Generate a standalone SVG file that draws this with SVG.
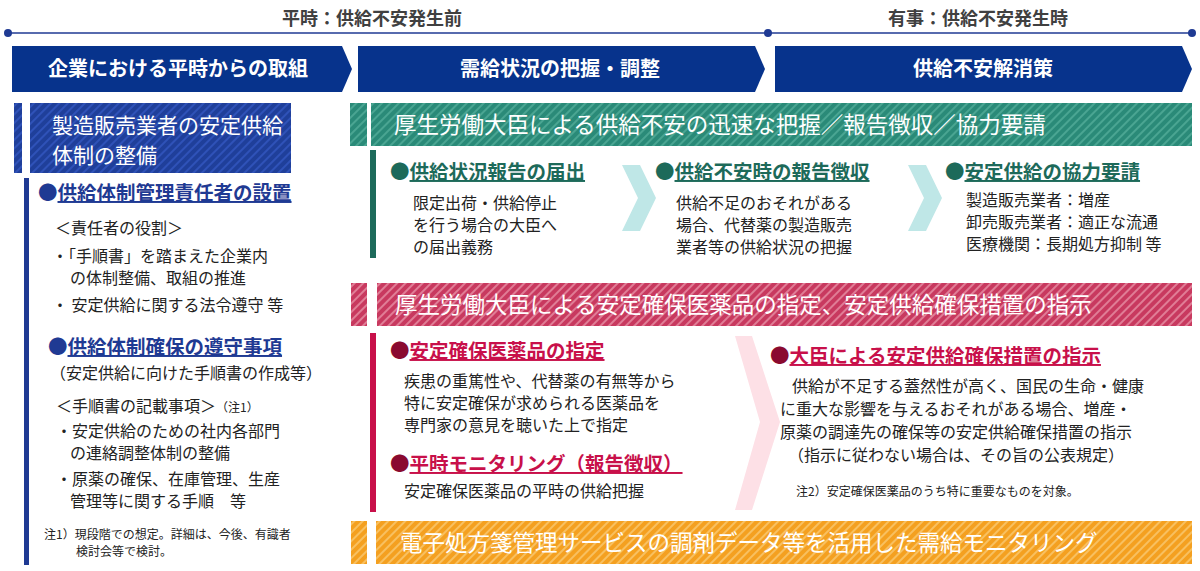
<svg xmlns="http://www.w3.org/2000/svg" width="1200" height="571" viewBox="0 0 1200 571">
<style>
text{font-family:"Noto Sans CJK JP","Noto Sans",sans-serif;}
.hd{fill:#fff;font-size:20px;font-weight:bold;text-anchor:middle}
.tl{fill:#404040;font-size:18px;font-weight:bold;text-anchor:middle}
.b{font-size:16px;fill:#222}
.s{font-size:12px;fill:#222}
.bw{fill:#fff;font-size:22.5px}
.h{font-size:19.5px;font-weight:bold}
</style>
<defs>
<pattern id="hb" width="6" height="6" patternUnits="userSpaceOnUse" patternTransform="rotate(45)"><rect width="6" height="6" fill="#1f3f9a"/><rect width="2" height="6" fill="#2f52b8"/></pattern>
<pattern id="hg" width="6" height="6" patternUnits="userSpaceOnUse" patternTransform="rotate(45)"><rect width="6" height="6" fill="#2a8a78"/><rect width="2" height="6" fill="#4aa592"/></pattern>
<pattern id="hp" width="6" height="6" patternUnits="userSpaceOnUse" patternTransform="rotate(45)"><rect width="6" height="6" fill="#c8395f"/><rect width="2" height="6" fill="#e07d96"/></pattern>
<pattern id="ho" width="6" height="6" patternUnits="userSpaceOnUse" patternTransform="rotate(45)"><rect width="6" height="6" fill="#f4a020"/><rect width="2" height="6" fill="#f8c060"/></pattern>
</defs>
<rect width="1200" height="571" fill="#fff"/>
<g id="timeline">
<text class="tl" x="372" y="25">平時：供給不安発生前</text>
<text class="tl" x="978" y="25">有事：供給不安発生時</text>
<line x1="8" y1="33" x2="1192" y2="33" stroke="#1f3a93" stroke-width="1.5"/>
<circle cx="8" cy="33" r="4" fill="#1f3a93"/>
<circle cx="768" cy="33" r="4" fill="#1f3a93"/>
<circle cx="1192" cy="33" r="4" fill="#1f3a93"/>
</g>
<g id="headers">
<polygon points="12,46 342,46 352,69 342,92 12,92" fill="#07338c"/>
<text class="hd" x="178" y="76">企業における平時からの取組</text>
<polygon points="358,46 755,46 765,69 755,92 358,92" fill="#07338c"/>
<text class="hd" x="560" y="76">需給状況の把握・調整</text>
<polygon points="775,46 1182,46 1192,69 1182,92 775,92" fill="#07338c"/>
<text class="hd" x="983" y="76">供給不安解消策</text>
</g>
<g id="left">
<rect x="14" y="103" width="8" height="70" fill="url(#hb)"/>
<rect x="30" y="103" width="261" height="70" fill="url(#hb)"/>
<text class="bw" x="52" y="133" font-size="21" style="font-size:21px">製造販売業者の安定供給</text>
<text class="bw" x="52" y="163" style="font-size:21px">体制の整備</text>
<rect x="24" y="178" width="5" height="387" fill="#1f3a93"/>
<text class="h" x="38" y="200" fill="#1f3a93">●<tspan text-decoration="underline">供給体制管理責任者の設置</tspan></text>
<text class="b" x="55" y="234">＜責任者の役割＞</text>
<text class="b" x="52" y="262">・「手順書」を踏まえた企業内</text>
<text class="b" x="70" y="284">の体制整備、取組の推進</text>
<text class="b" x="52" y="311">・ 安定供給に関する法令遵守 等</text>
<text class="h" x="48" y="354" fill="#1f3a93">●<tspan text-decoration="underline">供給体制確保の遵守事項</tspan></text>
<text class="b" x="50" y="379">（安定供給に向けた手順書の作成等）</text>
<text class="b" x="56" y="412">＜手順書の記載事項＞<tspan font-size="12">（注1）</tspan></text>
<text class="b" x="56" y="437">・安定供給のための社内各部門</text>
<text class="b" x="70" y="459">の連絡調整体制の整備</text>
<text class="b" x="56" y="485">・原薬の確保、在庫管理、生産</text>
<text class="b" x="70" y="507">管理等に関する手順　等</text>
<text class="s" x="44" y="539">注1）現段階での想定。詳細は、今後、有識者</text>
<text class="s" x="76" y="556">検討会等で検討。</text>
</g>
<g id="green">
<rect x="350" y="103" width="17" height="43" fill="url(#hg)"/>
<rect x="371" y="103" width="821" height="43" fill="url(#hg)"/>
<text class="bw" x="394" y="133">厚生労働大臣による供給不安の迅速な把握／報告徴収／協力要請</text>
<rect x="370" y="150" width="6" height="108" fill="#1d6a5a"/>
<polygon points="622,165 640,165 656,198 640,231 622,231 638,198" fill="#bfe7e7"/>
<polygon points="908,165 926,165 942,198 926,231 908,231 924,198" fill="#bfe7e7"/>
<text class="h" x="390" y="179" fill="#1d6a5a">●<tspan text-decoration="underline">供給状況報告の届出</tspan></text>
<text class="b" x="413" y="209">限定出荷・供給停止</text>
<text class="b" x="413" y="231">を行う場合の大臣へ</text>
<text class="b" x="413" y="253">の届出義務</text>
<text class="h" x="655" y="179" fill="#1d6a5a">●<tspan text-decoration="underline">供給不安時の報告徴収</tspan></text>
<text class="b" x="676" y="209">供給不足のおそれがある</text>
<text class="b" x="676" y="231">場合、代替薬の製造販売</text>
<text class="b" x="676" y="253">業者等の供給状況の把握</text>
<text class="h" x="945" y="179" fill="#1d6a5a">●<tspan text-decoration="underline">安定供給の協力要請</tspan></text>
<text class="b" x="966" y="206">製造販売業者：増産</text>
<text class="b" x="966" y="228">卸売販売業者：適正な流通</text>
<text class="b" x="966" y="250">医療機関：長期処方抑制 等</text>
</g>
<g id="pink">
<rect x="351" y="283" width="16" height="43" fill="url(#hp)"/>
<rect x="377" y="283" width="815" height="43" fill="url(#hp)"/>
<text class="bw" x="395" y="313">厚生労働大臣による安定確保医薬品の指定、安定供給確保措置の指示</text>
<rect x="370" y="333" width="6" height="179" fill="#c8104a"/>
<polygon points="735,336 752,336 780,422 752,510 735,510 760,422" fill="#fde0e6"/>
<text class="h" x="390" y="358" fill="#c8104a"><tspan fill="#8a0a30">●</tspan><tspan text-decoration="underline">安定確保医薬品の指定</tspan></text>
<text class="b" x="404" y="387">疾患の重篤性や、代替薬の有無等から</text>
<text class="b" x="404" y="409">特に安定確保が求められる医薬品を</text>
<text class="b" x="404" y="431">専門家の意見を聴いた上で指定</text>
<text class="h" x="390" y="471" fill="#c8104a"><tspan fill="#8a0a30">●</tspan><tspan text-decoration="underline">平時モニタリング（報告徴収）</tspan></text>
<text class="b" x="404" y="497">安定確保医薬品の平時の供給把握</text>
<text class="h" x="770" y="363" fill="#c8104a"><tspan fill="#8a0a30">●</tspan><tspan text-decoration="underline">大臣による安定供給確保措置の指示</tspan></text>
<text class="b" x="792" y="392">供給が不足する蓋然性が高く、国民の生命・健康</text>
<text class="b" x="780" y="415">に重大な影響を与えるおそれがある場合、増産・</text>
<text class="b" x="780" y="438">原薬の調達先の確保等の安定供給確保措置の指示</text>
<text class="b" x="788" y="461">（指示に従わない場合は、その旨の公表規定）</text>
<text class="s" x="796" y="496">注2）安定確保医薬品のうち特に重要なものを対象。</text>
</g>
<g id="orange">
<rect x="351" y="521" width="16" height="43" fill="url(#ho)"/>
<rect x="376" y="521" width="816" height="43" fill="url(#ho)"/>
<text class="bw" x="400" y="551">電子処方箋管理サービスの調剤データ等を活用した需給モニタリング</text>
</g>
<g id="connectors"></g>
</svg>
